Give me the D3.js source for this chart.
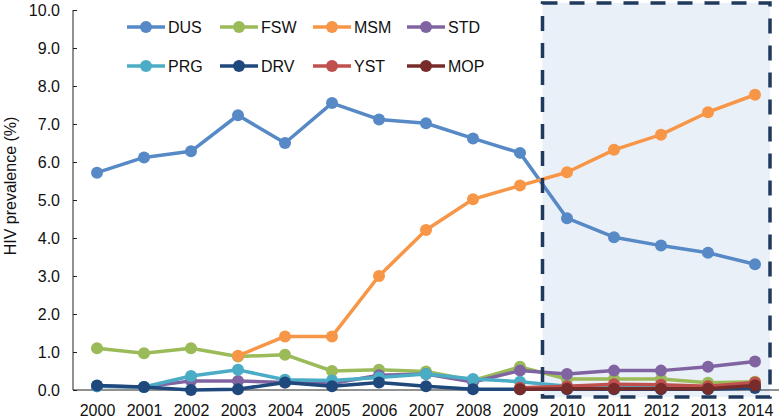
<!DOCTYPE html>
<html>
<head>
<meta charset="utf-8">
<script src="https://cdn.jsdelivr.net/npm/d3@7"></script>
<style>
  body { margin: 0; background: #fff; }
  text { font-family: "Liberation Sans", Arial, sans-serif; fill: #111; }
</style>
</head>
<body>
<div id="chart-area"></div>
<script>
// Datos
var years = [2000, 2001, 2002, 2003, 2004, 2005, 2006, 2007, 2008, 2009, 2010, 2011, 2012, 2013, 2014];
var yTicks = [0, 1, 2, 3, 4, 5, 6, 7, 8, 9, 10];
var seriesNames = ["DUS", "FSW", "MSM", "STD", "PRG", "DRV", "YST", "MOP"];
var seriesColors = ["#5689c6", "#9bbb59", "#f79646", "#8064a2", "#4bacc6", "#1f497d", "#c0504d", "#772c2a"];

var DUS = [5.72, 6.12, 6.28, 7.23, 6.5, 7.55, 7.12, 7.02, 6.62, 6.24, 4.52, 4.02, 3.8, 3.61, 3.31];
var FSW = [1.1, 0.97, 1.1, 0.88, 0.93, 0.5, 0.53, 0.49, 0.25, 0.61, 0.29, 0.29, 0.29, 0.19, 0.22];
var MSM = [null, null, null, 0.9, 1.41, 1.41, 3.0, 4.21, 5.02, 5.38, 5.73, 6.32, 6.72, 7.31, 7.77];
var STD = [0.1, 0.08, 0.24, 0.24, 0.2, 0.17, 0.39, 0.42, 0.21, 0.51, 0.42, 0.51, 0.51, 0.61, 0.75];
var PRG = [0.1, 0.08, 0.37, 0.53, 0.27, 0.25, 0.33, 0.42, 0.29, 0.22, 0.1, 0.08, 0.08, 0.08, 0.1];
var DRV = [0.12, 0.08, 0.0, 0.02, 0.2, 0.1, 0.2, 0.1, 0.02, 0.02, 0.02, 0.02, 0.02, 0.02, 0.05];
var YST = [null, null, null, null, null, null, null, null, null, 0.06, 0.1, 0.15, 0.14, 0.1, 0.2];
var MOP = [null, null, null, null, null, null, null, null, null, 0.02, 0.03, 0.03, 0.03, 0.03, 0.12];

var seriesValues = [DUS, FSW, MSM, STD, PRG, DRV, YST, MOP];

// SVG
var width = 779, height = 419;
var svg = d3.select("#chart-area").append("svg")
    .attr("width", width)
    .attr("height", height);

var x = d3.scalePoint().domain(years).range([97, 755]);
var y = d3.scaleLinear().domain([0, 10]).range([390, 10]);

// Recuadro sombreado (2010-2014)
var boxLeft = (x(2009) + x(2010)) / 2 - 1;
svg.append("rect")
    .attr("x", boxLeft)
    .attr("y", 3)
    .attr("width", 770 - boxLeft)
    .attr("height", 394)
    .attr("fill", "#eaf0f8");

// Eje Y
var yAxis = svg.append("g")
    .attr("transform", "translate(73,0)")
    .call(d3.axisRight(y).tickValues(yTicks).tickSize(4).tickFormat(""));
yAxis.select(".domain").remove();
yAxis.selectAll("line").attr("stroke", "#222");
svg.append("line")
    .attr("x1", 73).attr("x2", 73)
    .attr("y1", y(10)).attr("y2", y(0))
    .attr("stroke", "#222").attr("stroke-width", 1);

svg.selectAll(".ylab").data(yTicks).enter().append("text")
    .attr("x", 60)
    .attr("y", function(d) { return y(d); })
    .attr("dy", "0.35em")
    .attr("text-anchor", "end")
    .style("font-size", "16px")
    .text(function(d) { return d3.format(".1f")(d); });

// Eje X
svg.append("line")
    .attr("x1", 73).attr("x2", 779)
    .attr("y1", y(0)).attr("y2", y(0))
    .attr("stroke", "#222").attr("stroke-width", 1);

var xAxis = svg.append("g")
    .attr("transform", "translate(0," + y(0) + ")")
    .call(d3.axisBottom(x).tickSize(0).tickPadding(15));
xAxis.select(".domain").remove();
xAxis.selectAll("text")
    .style("font-size", "16px")
    .style("font-family", "'Liberation Sans', Arial, sans-serif")
    .attr("fill", "#111");

// Título eje Y
svg.append("text")
    .attr("transform", "translate(16,186) rotate(-90)")
    .attr("text-anchor", "middle")
    .style("font-size", "16px")
    .text("HIV prevalence (%)");

// Líneas y puntos
var line = d3.line()
    .defined(function(d) { return d.v !== null; })
    .x(function(d) { return x(d.year); })
    .y(function(d) { return y(d.v); });

seriesNames.forEach(function(name, i) {
    var pts = years.map(function(yr, j) { return { year: yr, v: seriesValues[i][j] }; });
    var g = svg.append("g").attr("class", "serie-" + name);
    g.append("path")
        .datum(pts)
        .attr("d", line)
        .attr("fill", "none")
        .attr("stroke", seriesColors[i])
        .attr("stroke-width", 3.5)
        .attr("stroke-linejoin", "round");
    g.selectAll("circle")
        .data(pts.filter(function(d) { return d.v !== null; }))
        .enter().append("circle")
        .attr("cx", function(d) { return x(d.year); })
        .attr("cy", function(d) { return y(d.v); })
        .attr("r", 6)
        .attr("fill", seriesColors[i]);
});

// Borde discontinuo del recuadro
svg.append("rect")
    .attr("x", boxLeft)
    .attr("y", 3)
    .attr("width", 770 - boxLeft)
    .attr("height", 394)
    .attr("fill", "none")
    .attr("stroke", "#1f3a5c")
    .attr("stroke-width", 3.5)
    .attr("stroke-dasharray", "15,12");

// Leyenda
var legendX = [127, 220, 313, 407];
var legendY = [27, 66];
seriesNames.forEach(function(name, i) {
    var lx = legendX[i % 4], ly = legendY[Math.floor(i / 4)];
    svg.append("line")
        .attr("x1", lx).attr("x2", lx + 38)
        .attr("y1", ly).attr("y2", ly)
        .attr("stroke", seriesColors[i])
        .attr("stroke-width", 3.5);
    svg.append("circle")
        .attr("cx", lx + 19).attr("cy", ly)
        .attr("r", 6)
        .attr("fill", seriesColors[i]);
    svg.append("text")
        .attr("x", lx + 41).attr("y", ly)
        .attr("dy", "0.36em")
        .style("font-size", "16px")
        .text(name);
});
</script>
</body>
</html>
